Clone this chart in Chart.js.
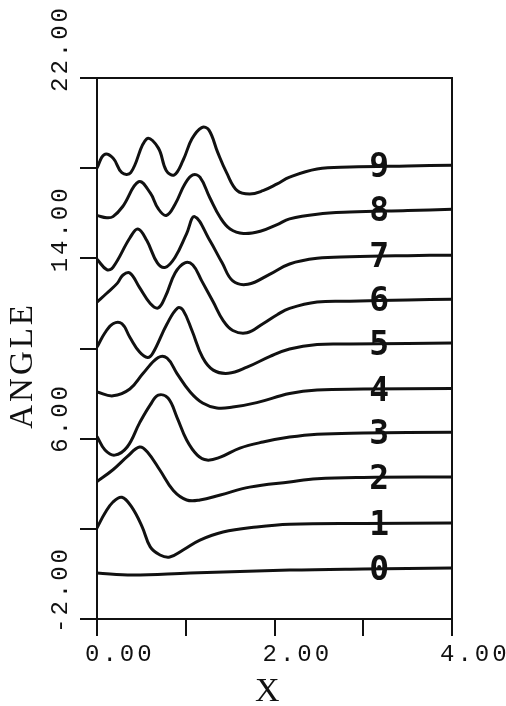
<!DOCTYPE html>
<html>
<head>
<meta charset="utf-8">
<script src="https://cdn.jsdelivr.net/npm/chart.js@4.4.1/dist/chart.umd.min.js"></script>
<style>
  html, body { margin: 0; padding: 0; background: #fff; }
  #wrap { width: 506px; height: 706px; }
</style>
</head>
<body>
<div id="wrap"><canvas id="anglePlot" width="506" height="706"></canvas></div>
<script>
// curve numbers written at the right, bottom to top
const curveNames = ["0", "1", "2", "3", "4", "5", "6", "7", "8", "9"];

// points: [x, angle]
const curve0 = [[0, 0.04], [0.4, -0.05], [1.05, 0.04], [2.17, 0.17], [3.0, 0.22], [4.0, 0.26]];
const curve1 = [[0, 2.04], [0.09, 2.7], [0.18, 3.19], [0.28, 3.4], [0.39, 2.97], [0.51, 2.08], [0.6, 1.2], [0.71, 0.84], [0.82, 0.75], [0.97, 1.06], [1.16, 1.5], [1.42, 1.86], [1.8, 2.08], [2.17, 2.2], [3.0, 2.24], [4.0, 2.26]];
const curve2 = [[0, 4.1], [0.18, 4.62], [0.34, 5.2], [0.48, 5.63], [0.57, 5.4], [0.71, 4.6], [0.86, 3.7], [1.01, 3.28], [1.16, 3.28], [1.39, 3.5], [1.72, 3.85], [2.17, 4.08], [2.48, 4.22], [3.0, 4.28], [4.0, 4.3]];
const curve3 = [[0, 6.1], [0.09, 5.5], [0.2, 5.27], [0.34, 5.63], [0.48, 6.7], [0.6, 7.5], [0.69, 7.93], [0.8, 7.8], [0.9, 6.96], [1.01, 5.94], [1.13, 5.27], [1.24, 5.05], [1.39, 5.18], [1.61, 5.58], [1.87, 5.85], [2.17, 6.07], [2.48, 6.2], [3.0, 6.25], [4.0, 6.29]];
const curve4 = [[0, 8.07], [0.18, 7.9], [0.37, 8.2], [0.52, 8.9], [0.69, 9.6], [0.79, 9.57], [0.9, 8.9], [1.05, 8.07], [1.19, 7.58], [1.35, 7.36], [1.53, 7.4], [1.8, 7.6], [2.17, 8.0], [2.48, 8.16], [3.0, 8.2], [4.0, 8.22]];
const curve5 = [[0, 10.06], [0.09, 10.7], [0.18, 11.1], [0.28, 11.1], [0.37, 10.5], [0.48, 9.84], [0.57, 9.6], [0.63, 9.8], [0.79, 11.1], [0.91, 11.8], [0.97, 11.7], [1.07, 10.8], [1.19, 9.6], [1.31, 9.04], [1.48, 8.9], [1.69, 9.17], [1.95, 9.65], [2.17, 9.98], [2.48, 10.18], [2.85, 10.2], [3.5, 10.22], [4.0, 10.24]];
const curve6 = [[0, 12.06], [0.11, 12.45], [0.23, 12.9], [0.29, 13.25], [0.37, 13.35], [0.48, 12.7], [0.6, 12.0], [0.69, 11.8], [0.77, 12.3], [0.88, 13.35], [0.99, 13.8], [1.08, 13.7], [1.18, 13.0], [1.31, 12.06], [1.42, 11.25], [1.53, 10.8], [1.69, 10.7], [1.87, 11.1], [2.03, 11.5], [2.17, 11.78], [2.48, 12.06], [2.85, 12.1], [3.5, 12.15], [4.0, 12.19]];
const curve7 = [[0, 13.96], [0.11, 13.5], [0.18, 13.6], [0.37, 14.9], [0.46, 15.3], [0.56, 14.8], [0.68, 13.8], [0.77, 13.6], [0.88, 14.05], [1.01, 15.1], [1.1, 15.85], [1.27, 14.8], [1.41, 13.8], [1.53, 13.0], [1.7, 12.85], [1.95, 13.3], [2.17, 13.75], [2.48, 14.0], [2.85, 14.07], [3.5, 14.12], [4.0, 14.14]];
const curve8 = [[0, 15.9], [0.11, 15.8], [0.18, 15.85], [0.29, 16.3], [0.47, 17.4], [0.6, 16.9], [0.69, 16.2], [0.78, 15.9], [0.88, 16.4], [0.99, 17.3], [1.08, 17.7], [1.16, 17.6], [1.27, 16.7], [1.39, 15.8], [1.5, 15.3], [1.65, 15.1], [1.84, 15.2], [2.03, 15.5], [2.17, 15.75], [2.48, 15.96], [2.85, 16.05], [3.5, 16.12], [4.0, 16.18]];
const curve9 = [[0, 18.0], [0.08, 18.6], [0.18, 18.45], [0.28, 17.8], [0.38, 17.8], [0.56, 19.3], [0.69, 18.9], [0.78, 17.9], [0.87, 17.7], [0.97, 18.35], [1.07, 19.3], [1.18, 19.8], [1.26, 19.7], [1.36, 18.7], [1.46, 17.8], [1.58, 17.0], [1.72, 16.85], [1.87, 17.0], [2.03, 17.3], [2.17, 17.6], [2.48, 17.96], [2.85, 18.05], [3.5, 18.1], [4.0, 18.13]];

// axis ticks: marks every step, labels only on these values
const xLabelValues = [0, 2, 4];
const yLabelValues = [-2, 6, 14, 22];

const curves = [curve0, curve1, curve2, curve3, curve4, curve5, curve6, curve7, curve8, curve9];
const INK = "#111";
const NUMBER_AT_X = 3.18; // where the curve numbers sit

// plotter style: wide letter spacing on the mono labels
const plotterSpacing = {
    id: "plotterSpacing",
    beforeUpdate(chart) { chart.ctx.letterSpacing = "3px"; },
    beforeDraw(chart) { chart.ctx.letterSpacing = "3px"; }
};

// box round the plot
const frame = {
    id: "frame",
    beforeDatasetsDraw(chart) {
        const { ctx, chartArea: a } = chart;
        ctx.save();
        ctx.strokeStyle = INK;
        ctx.lineWidth = 2;
        ctx.strokeRect(a.left, a.top, a.right - a.left, a.bottom - a.top);
        ctx.restore();
    }
};

// curve numbers on the right
const curveNumbers = {
    id: "curveNumbers",
    afterDatasetsDraw(chart) {
        const { ctx, scales } = chart;
        ctx.save();
        ctx.letterSpacing = "0px";
        ctx.font = 'bold 33px "DejaVu Sans Mono"';
        ctx.fillStyle = INK;
        ctx.textAlign = "center";
        ctx.textBaseline = "alphabetic";
        curves.forEach((pts, i) => {
            const px = scales.x.getPixelForValue(NUMBER_AT_X);
            const py = scales.y.getPixelForValue(pts[pts.length - 1][1]);
            ctx.fillText(curveNames[i], px, py + 12);
        });
        ctx.restore();
    }
};

const tickFont = { family: '"Liberation Mono", monospace', size: 24 };
const titleFont = { family: '"Liberation Serif", serif', size: 33 };

new Chart(document.getElementById("anglePlot"), {
    type: "line",
    data: {
        datasets: curves.map((pts, i) => ({
            label: curveNames[i],
            data: pts.map(p => ({ x: p[0], y: p[1] })),
            borderColor: INK,
            borderWidth: 3,
            pointRadius: 0,
            fill: false,
            tension: 0.4
        }))
    },
    options: {
        responsive: false,
        animation: false,
        devicePixelRatio: 1,
        events: [],
        layout: { padding: { top: 78, right: 54, bottom: 0, left: 0 } },
        plugins: { legend: { display: false }, tooltip: { enabled: false } },
        scales: {
            x: {
                type: "linear",
                position: "bottom",
                min: 0,
                max: 4,
                afterFit: s => { s.height = 87; s.paddingLeft = 0; s.paddingRight = 0; },
                ticks: {
                    stepSize: 1,
                    autoSkip: false,
                    maxRotation: 0,
                    align: "start",
                    labelOffset: -12,
                    padding: 4,
                    color: INK,
                    font: tickFont,
                    callback: v => xLabelValues.includes(v) ? v.toFixed(2) : ""
                },
                grid: { drawOnChartArea: false, tickLength: 17, color: INK, lineWidth: 2 },
                border: { display: true, color: INK, width: 2 },
                title: {
                    display: true,
                    text: "X ",
                    color: INK,
                    font: { ...titleFont, size: 34, lineHeight: 0.8 },
                    padding: 0
                }
            },
            y: {
                type: "linear",
                position: "left",
                min: -2,
                max: 22,
                afterFit: s => { s.width = 36; s.paddingTop = 0; s.paddingBottom = 0; },
                ticks: {
                    stepSize: 4,
                    minRotation: 90,
                    maxRotation: 90,
                    // mirrored with a negative padding so the labels sit left of the tick marks unclipped
                    mirror: true,
                    crossAlign: "near",
                    padding: -36,
                    labelOffset: 14,
                    color: INK,
                    font: tickFont,
                    callback: v => yLabelValues.includes(v) ? v.toFixed(2) : ""
                },
                grid: { drawOnChartArea: false, tickLength: 17, color: INK, lineWidth: 2 },
                border: { display: true, color: INK, width: 2 }
            },
            // holds only the y title, outside the tick labels
            yTitle: {
                type: "linear",
                position: "left",
                axis: "y",
                weight: 1,
                afterFit: s => { s.width = 61; s.paddingTop = 0; s.paddingBottom = 0; },
                ticks: { display: false },
                grid: { display: false },
                border: { display: false },
                title: {
                    display: true,
                    text: "ANGLE   ",
                    color: INK,
                    font: titleFont,
                    padding: { top: 4, bottom: 0 }
                }
            }
        }
    },
    plugins: [plotterSpacing, frame, curveNumbers]
});
</script>
</body>
</html>
